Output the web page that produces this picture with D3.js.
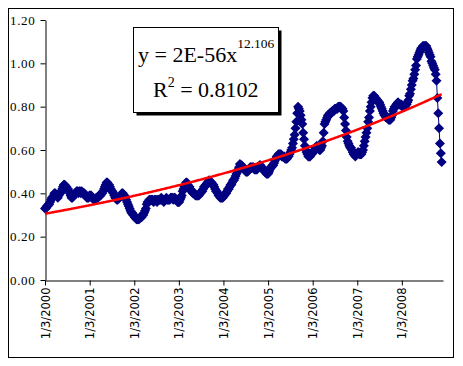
<!DOCTYPE html>
<html>
<head>
<meta charset="utf-8">
<script src="https://cdn.jsdelivr.net/npm/d3@7.9.0/dist/d3.min.js"></script>
<style>
  body { margin: 0; background: #fff; }
  svg { display: block; font-family: "Liberation Serif", "Times New Roman", serif; }
</style>
</head>
<body>
<svg id="chart" width="463" height="366"></svg>
<script>
// weekly values, starting Monday 1/3/2000
const startDate = "1/3/2000";
const values = [
  0.33,0.33,0.34,0.34,0.35,0.35,0.36,0.37,0.38,0.38,0.39,0.40,0.40,
  0.39,0.39,0.38,0.39,0.40,0.40,0.41,0.42,0.43,0.44,0.44,0.43,0.43,0.42,0.42,
  0.41,0.40,0.39,0.38,0.38,0.39,0.39,0.40,0.40,0.41,0.41,0.40,0.41,0.41,
  0.40,0.41,0.40,0.40,0.40,0.39,0.39,0.38,0.38,0.38,0.39,0.39,0.39,
  0.38,0.38,0.37,0.37,0.37,0.38,0.38,0.38,0.39,0.39,0.39,0.40,0.40,0.41,0.42,
  0.43,0.44,0.45,0.45,0.44,0.44,0.43,0.42,0.41,0.41,0.40,0.39,0.38,0.38,0.37,
  0.37,0.38,0.38,0.39,0.39,0.40,0.40,0.39,0.39,0.38,0.37,0.36,0.35,0.34,0.33,
  0.32,0.31,0.31,0.30,0.30,0.29,0.29,0.28,0.28,0.28,0.28,0.29,0.29,0.29,
  0.30,0.30,0.31,0.32,0.33,0.35,0.36,0.36,0.37,0.37,0.37,0.37,
  0.37,0.36,0.37,0.37,0.37,0.36,0.37,0.37,0.37,
  0.37,0.38,0.37,0.37,0.36,0.37,0.37,0.38,0.37,0.37,0.37,0.37,
  0.38,0.38,0.38,0.37,0.38,0.38,0.37,0.37,0.36,0.36,0.36,0.37,
  0.38,0.39,0.41,0.42,0.43,0.44,0.45,0.45,0.44,0.43,0.43,0.42,
  0.41,0.41,0.40,0.40,0.40,0.39,0.39,0.39,0.39,0.39,0.40,0.40,0.41,0.41,
  0.42,0.43,0.43,0.44,0.44,0.45,0.45,0.46,0.455,0.45,0.45,0.44,0.44,0.43,
  0.42,0.41,0.41,0.40,0.39,0.39,0.38,0.38,0.38,0.38,0.39,0.39,0.40,0.40,
  0.41,0.42,0.42,0.43,0.44,0.44,0.45,0.46,0.46,0.47,0.48,0.49,0.50,
  0.51,0.52,0.535,0.53,0.53,0.52,0.52,0.51,0.51,0.50,0.50,0.50,0.51,0.51,0.52,
  0.52,0.52,0.52,0.52,0.51,0.51,0.51,0.51,0.52,0.52,0.53,
  0.53,0.52,0.52,0.51,0.51,0.50,0.50,0.49,0.49,0.49,0.50,0.51,0.52,
  0.52,0.53,0.53,0.54,0.55,0.56,0.57,0.57,0.58,0.58,0.58,
  0.58,0.57,0.57,0.57,0.57,0.56,0.56,0.56,0.57,0.57,0.58,0.59,0.60,0.61,
  0.63,0.65,0.67,0.70,0.73,0.77,0.80,0.79,0.78,0.76,0.74,0.72,0.68,0.65,0.62,0.60,
  0.59,0.58,0.57,0.57,0.57,0.58,0.58,0.59,0.59,0.60,0.61,0.61,0.62,
  0.61,0.61,0.60,0.60,0.61,0.62,0.64,0.68,0.72,0.73,0.74,0.75,0.76,
  0.76,0.77,0.77,0.77,0.78,0.78,0.78,0.79,0.79,0.79,0.79,0.80,0.80,0.80,
  0.80,0.79,0.79,0.78,0.75,0.72,0.69,0.66,0.64,0.63,0.62,0.61,0.61,0.60,
  0.59,0.58,0.58,0.57,0.58,0.58,0.59,0.59,0.58,0.58,0.58,0.59,0.60,0.62,
  0.64,0.66,0.68,0.70,0.73,0.75,0.78,0.80,0.82,0.84,0.85,0.85,0.84,0.84,
  0.83,0.83,0.82,0.82,0.81,0.80,0.79,0.78,0.77,0.76,0.76,0.75,
  0.75,0.75,0.74,0.74,0.74,0.75,0.76,0.78,0.79,0.80,0.80,0.81,0.815,
  0.82,0.81,0.81,0.81,0.81,0.80,0.80,0.80,0.80,0.81,0.81,0.82,0.83,
  0.85,0.86,0.88,0.90,0.92,0.93,0.95,0.97,0.99,1.02,1.03,1.04,1.05,1.06,
  1.07,1.07,1.08,1.08,1.08,1.08,1.08,1.07,1.06,1.05,1.04,1.03,1.01,1.00,
  0.99,0.98,0.97,0.95,0.92,0.84,0.77,0.70,0.63,0.585,0.545
];

const yTicks = [0, 0.2, 0.4, 0.6, 0.8, 1.0, 1.2];
const xTickLabels = ["1/3/2000", "1/3/2001", "1/3/2002", "1/3/2003", "1/3/2004",
                     "1/3/2005", "1/3/2006", "1/3/2007", "1/3/2008"];

// power trendline, x = Excel date serial
const trendA = 1.78e-56;
const trendB = 12.106;
const eqText = "y = 2E-56x";
const eqExp = "12.106";
const r2Text = "0.8102";

const parse = d3.timeParse("%m/%d/%Y");
const start = parse(startDate);
const data = values.map((v, i) => ({ date: d3.timeWeek.offset(start, i), value: v }));

const svg = d3.select("#chart");

// outer frame
svg.append("rect")
  .attr("x", 8.5).attr("y", 8.5)
  .attr("width", 445).attr("height", 349)
  .attr("fill", "#fff").attr("stroke", "#000").attr("stroke-width", 1);

const x = d3.scaleTime()
  .domain([start, new Date(2008, 11, 5)])
  .range([45, 443]);

const y = d3.scaleLinear()
  .domain([0, 1.2])
  .range([280, 20]);

// y axis
const yAxis = svg.append("g")
  .attr("transform", "translate(45.5,0)")
  .call(d3.axisLeft(y).tickValues(yTicks).tickFormat(d3.format(".2f")).tickSize(5).tickSizeOuter(0));
yAxis.selectAll("text").attr("font-size", 13).attr("fill", "#000").attr("x", -10)
  .style("font-family", "Liberation Serif, serif")
  .style("letter-spacing", "0.7px");

// x axis
const xAxis = svg.append("g")
  .attr("transform", "translate(0,280.5)")
  .call(d3.axisBottom(x).tickValues(xTickLabels.map(parse))
    .tickFormat((d, i) => xTickLabels[i]).tickSize(5).tickSizeOuter(0));
xAxis.selectAll("text")
  .attr("font-size", 11.5).attr("fill", "#000")
  .style("font-family", "DejaVu Sans, sans-serif")
  .attr("text-anchor", "end")
  .attr("transform", "rotate(-90)")
  .attr("x", -7).attr("y", 0).attr("dy", "0.35em");

svg.selectAll(".domain, .tick line").attr("stroke", "#000");

// series line + diamonds
const line = d3.line().x(d => x(d.date)).y(d => y(d.value));
svg.append("path")
  .datum(data)
  .attr("d", line)
  .attr("fill", "none")
  .attr("stroke", "#000080")
  .attr("stroke-width", 1);

svg.append("g")
  .selectAll("path")
  .data(data)
  .join("path")
  .attr("transform", d => `translate(${x(d.date)},${y(d.value)})`)
  .attr("d", "M0,-5L5,0L0,5L-5,0Z")
  .attr("fill", "#000080");

// trendline
const excelSerial = d => (d - new Date(1899, 11, 30)) / 864e5;
svg.append("path")
  .datum(data)
  .attr("d", d3.line().x(d => x(d.date)).y(d => y(trendA * Math.pow(excelSerial(d.date), trendB))))
  .attr("fill", "none")
  .attr("stroke", "#ff0000")
  .attr("stroke-width", 2.5);

// equation box
const box = svg.append("g");
box.append("rect")
  .attr("x", 136.5).attr("y", 30.5).attr("width", 145).attr("height", 85)
  .attr("fill", "#000");
box.append("rect")
  .attr("x", 133.5).attr("y", 27.5).attr("width", 145).attr("height", 85)
  .attr("fill", "#fff").attr("stroke", "#000").attr("stroke-width", 1);

const eq = box.append("text").attr("x", 138).attr("y", 62).attr("font-size", 22);
eq.append("tspan").text(eqText);
eq.append("tspan").attr("font-size", 13.5).attr("dy", -14).text(eqExp);

const r2 = box.append("text").attr("x", 153).attr("y", 97).attr("font-size", 22);
r2.append("tspan").text("R");
r2.append("tspan").attr("font-size", 14).attr("dy", -10).text("2");
r2.append("tspan").attr("dy", 10).text(" = " + r2Text);
</script>
</body>
</html>
